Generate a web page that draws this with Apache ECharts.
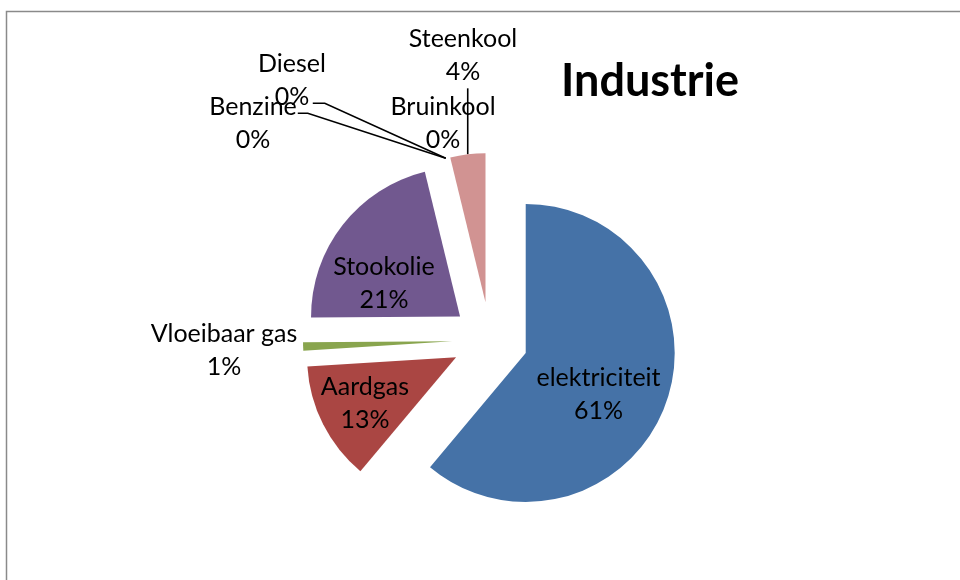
<!DOCTYPE html>
<html>
<head>
<meta charset="utf-8">
<script src="https://cdn.jsdelivr.net/npm/echarts@6/dist/echarts.min.js"></script>
<style>html,body{margin:0;padding:0;background:#fff}#industrie{width:960px;height:580px}</style>
</head>
<body>
<div id="industrie"></div>
<script>
//data: energiebronnen industrie (aandeel %)
var categories = ['elektriciteit', 'Aardgas', 'Vloeibaar gas', 'Stookolie', 'Benzine', 'Diesel', 'Bruinkool', 'Steenkool'];
var shares = [61.1, 12.9, 0.9, 21.3, 0, 0, 0, 3.8];
var colors = ['#4572A7', '#AA4643', '#89A54E', '#71588F', '#4198AF', '#DB843D', '#93A9CF', '#D19392'];
var insideNames = ['elektriciteit', 'Aardgas', 'Stookolie'];
var lineNames = ['Benzine', 'Diesel', 'Steenkool'];

var explode = 38;

//label placement
var insideShift = {
	'elektriciteit': [0, 15],
	'Aardgas': [-22, 11],
	'Stookolie': [-15, 15]
};
//centre of outside label blocks
var outsidePos = {
	'Vloeibaar gas': [224, 350],
	'Benzine': [253, 123],
	'Diesel': [292, 80],
	'Bruinkool': [443, 123],
	'Steenkool': [463, 55]
};
//leader line bend + end, relative to where the line leaves the slice
var lineSteps = {
	'Benzine': [[-138, -45], [-148, -45]],
	'Diesel': [[-121, -55], [-133, -55]],
	'Steenkool': [[0, -34], [0, -66]]
};

//explode shift of every slice (clockwise from 12 o'clock)
var total = shares.reduce(function (a, b) { return a + b; }, 0);
var acc = 0;
var sliceShift = shares.map(function (v) {
	var mid = (acc + v / 2) / total * 2 * Math.PI;
	acc += v;
	return [explode * Math.sin(mid), -explode * Math.cos(mid)];
});

var pieData = categories.map(function (name, i) {
	var inside = insideNames.indexOf(name) >= 0;
	return {
		name: name,
		value: shares[i],
		selected: true,
		itemStyle: {color: colors[i]},
		label: {position: inside ? 'inside' : 'outside'},
		labelLine: {show: lineNames.indexOf(name) >= 0}
	};
});

var chart = echarts.init(document.getElementById('industrie'));
var option = {
	backgroundColor: '#fff',
	animation: false,
	title: {
		text: 'Industrie',
		left: 556,
		top: 54,
		textStyle: {fontFamily: 'Lato', fontSize: 45, fontWeight: 'bold', color: '#000'}
	},
	graphic: [{
		type: 'rect',
		shape: {x: 6.5, y: 11.5, width: 1000, height: 1000},
		style: {fill: 'none', stroke: '#8a8a8a', lineWidth: 1.5}
	}],
	series: [{
		type: 'pie',
		center: [490, 340],
		radius: 149,
		startAngle: 90,
		selectedMode: 'multiple',
		selectedOffset: explode,
		avoidLabelOverlap: false,
		data: pieData,
		label: {
			color: '#000',
			fontFamily: 'Lato',
			fontSize: 25,
			lineHeight: 33,
			align: 'center',
			formatter: function (p) {
				return p.name + '\n' + Math.round(p.percent) + '%';
			}
		},
		labelLine: {
			lineStyle: {color: '#000', width: 1.6}
		},
		emphasis: {disabled: true},
		labelLayout: function (p) {
			var name = categories[p.dataIndex];
			if (insideShift[name]) {
				return {dx: insideShift[name][0], dy: insideShift[name][1]};
			}
			var pos = outsidePos[name];
			var r = p.labelRect;
			var sh = sliceShift[p.dataIndex];
			var anchor = p.align === 'right' ? r.x + r.width : (p.align === 'left' ? r.x : r.x + r.width / 2);
			var res = {
				align: 'center',
				dx: pos[0] - anchor - sh[0],
				dy: pos[1] - (r.y + r.height / 2) - sh[1]
			};
			if (lineSteps[name] && p.labelLinePoints) {
				var s = p.labelLinePoints[0];
				res.labelLinePoints = [
					[s[0], s[1]],
					[s[0] + lineSteps[name][0][0], s[1] + lineSteps[name][0][1]],
					[s[0] + lineSteps[name][1][0], s[1] + lineSteps[name][1][1]]
				];
			}
			return res;
		}
	}]
};
chart.setOption(option);
</script>
</body>
</html>
